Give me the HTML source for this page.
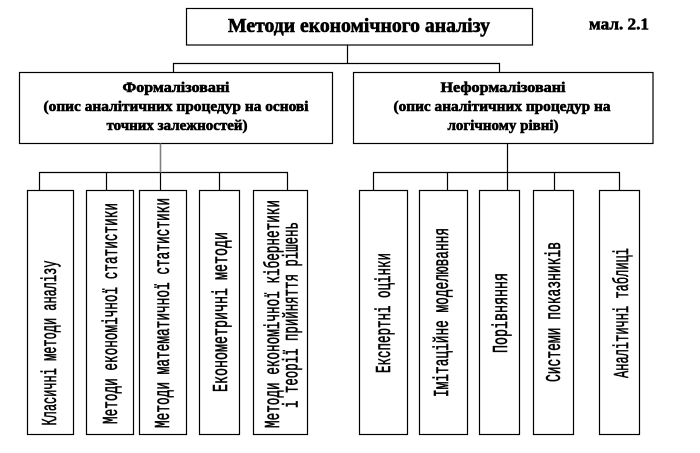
<!DOCTYPE html>
<html>
<head>
<meta charset="utf-8">
<style>
  html,body{margin:0;padding:0;background:#fff;}
  svg{display:block;}
  .b{font-family:"Liberation Serif","Noto Serif CJK SC",serif;font-weight:bold;fill:#000;stroke:#000;stroke-width:0.6;}
  .v{font-family:"Liberation Mono","DejaVu Sans Mono",monospace;font-size:21px;fill:#000;stroke:#000;stroke-width:0.6;}
</style>
</head>
<body>
<svg width="700" height="453" viewBox="0 0 700 453" xmlns="http://www.w3.org/2000/svg">
  <rect x="0" y="0" width="700" height="453" fill="#fff"/>
  <g fill="none" stroke="#000" stroke-width="1.2">
    <rect x="186.5" y="8.5" width="346" height="36.5"/>
    <path d="M347.5 45 V63.5 M173 63.5 H500 M173.5 63 V72.5 M499.5 63 V72.5"/>
    <rect x="19.5" y="72.5" width="313" height="71"/>
    <rect x="353.5" y="72.5" width="299.5" height="71"/>
    <path d="M39 172.5 H288 M39.5 172.5 V190.5 M106.5 172.5 V190.5 M160.5 172.5 V190.5 M219.5 172.5 V190.5 M287.5 172.5 V190.5"/>
    <path d="M507.5 143.5 V172.5 M373 172.5 H620 M373.5 172.5 V190.5 M447.5 172.5 V190.5 M507.5 172.5 V190.5 M554.5 172.5 V190.5 M619.5 172.5 V190.5"/>
    <rect x="27.5" y="190.5" width="46" height="244"/>
    <rect x="86.5" y="190.5" width="47" height="244"/>
    <rect x="139.5" y="190.5" width="47" height="244"/>
    <rect x="199.5" y="190.5" width="40" height="244"/>
    <rect x="253.5" y="190.5" width="54" height="244"/>
    <rect x="359.5" y="190.5" width="48" height="244"/>
    <rect x="419.5" y="190.5" width="48" height="244"/>
    <rect x="479.5" y="190.5" width="40" height="244"/>
    <rect x="533.5" y="190.5" width="40" height="244"/>
    <rect x="599.5" y="190.5" width="40" height="244"/>
  </g>
  <path d="M160.5 143.5 V172.5" stroke="#808080" stroke-width="1.6" fill="none"/>

  <text class="b" x="359" y="32" font-size="19.5" text-anchor="middle" textLength="262" lengthAdjust="spacingAndGlyphs">Методи економічного аналізу</text>
  <text class="b" x="589" y="29.5" font-size="17" textLength="60" lengthAdjust="spacingAndGlyphs">мал. 2.1</text>

  <text class="b" x="176" y="92" font-size="15" text-anchor="middle" textLength="107" lengthAdjust="spacingAndGlyphs">Формалізовані</text>
  <text class="b" x="176" y="111" font-size="15" text-anchor="middle" textLength="265" lengthAdjust="spacingAndGlyphs">(опис аналітичних процедур на основі</text>
  <text class="b" x="177" y="130" font-size="15" text-anchor="middle" textLength="141" lengthAdjust="spacingAndGlyphs">точних залежностей)</text>

  <text class="b" x="503" y="92" font-size="15" text-anchor="middle" textLength="125" lengthAdjust="spacingAndGlyphs">Неформалізовані</text>
  <text class="b" x="502" y="111" font-size="15" text-anchor="middle" textLength="217" lengthAdjust="spacingAndGlyphs">(опис аналітичних процедур на</text>
  <text class="b" x="503" y="130" font-size="15" text-anchor="middle" textLength="111" lengthAdjust="spacingAndGlyphs">логічному рівні)</text>

  <text class="v" transform="translate(56,343) rotate(-90)" text-anchor="middle" textLength="165" lengthAdjust="spacingAndGlyphs">Класичні методи аналізу</text>
  <text class="v" transform="translate(117,313.5) rotate(-90)" text-anchor="middle" textLength="221" lengthAdjust="spacingAndGlyphs">Методи економічної статистики</text>
  <text class="v" transform="translate(169,313) rotate(-90)" text-anchor="middle" textLength="230" lengthAdjust="spacingAndGlyphs">Методи математичної статистики</text>
  <text class="v" transform="translate(227,312) rotate(-90)" text-anchor="middle" textLength="160" lengthAdjust="spacingAndGlyphs">Економетричні методи</text>
  <text class="v" transform="translate(279,314) rotate(-90)" text-anchor="middle" textLength="228" lengthAdjust="spacingAndGlyphs">Методи економічної кібернетики</text>
  <text class="v" transform="translate(297.5,315) rotate(-90)" text-anchor="middle" textLength="186" lengthAdjust="spacingAndGlyphs">і теорії прийняття рішень</text>

  <text class="v" transform="translate(390,313) rotate(-90)" text-anchor="middle" textLength="120" lengthAdjust="spacingAndGlyphs">Експертні оцінки</text>
  <text class="v" transform="translate(448,312.5) rotate(-90)" text-anchor="middle" textLength="169" lengthAdjust="spacingAndGlyphs">Імітаційне моделювання</text>
  <text class="v" transform="translate(507,313) rotate(-90)" text-anchor="middle" textLength="80" lengthAdjust="spacingAndGlyphs">Порівняння</text>
  <text class="v" transform="translate(560,312) rotate(-90)" text-anchor="middle" textLength="140" lengthAdjust="spacingAndGlyphs">Системи показників</text>
  <text class="v" transform="translate(628,313) rotate(-90)" text-anchor="middle" textLength="130" lengthAdjust="spacingAndGlyphs">Аналітичні таблиці</text>
</svg>
</body>
</html>
